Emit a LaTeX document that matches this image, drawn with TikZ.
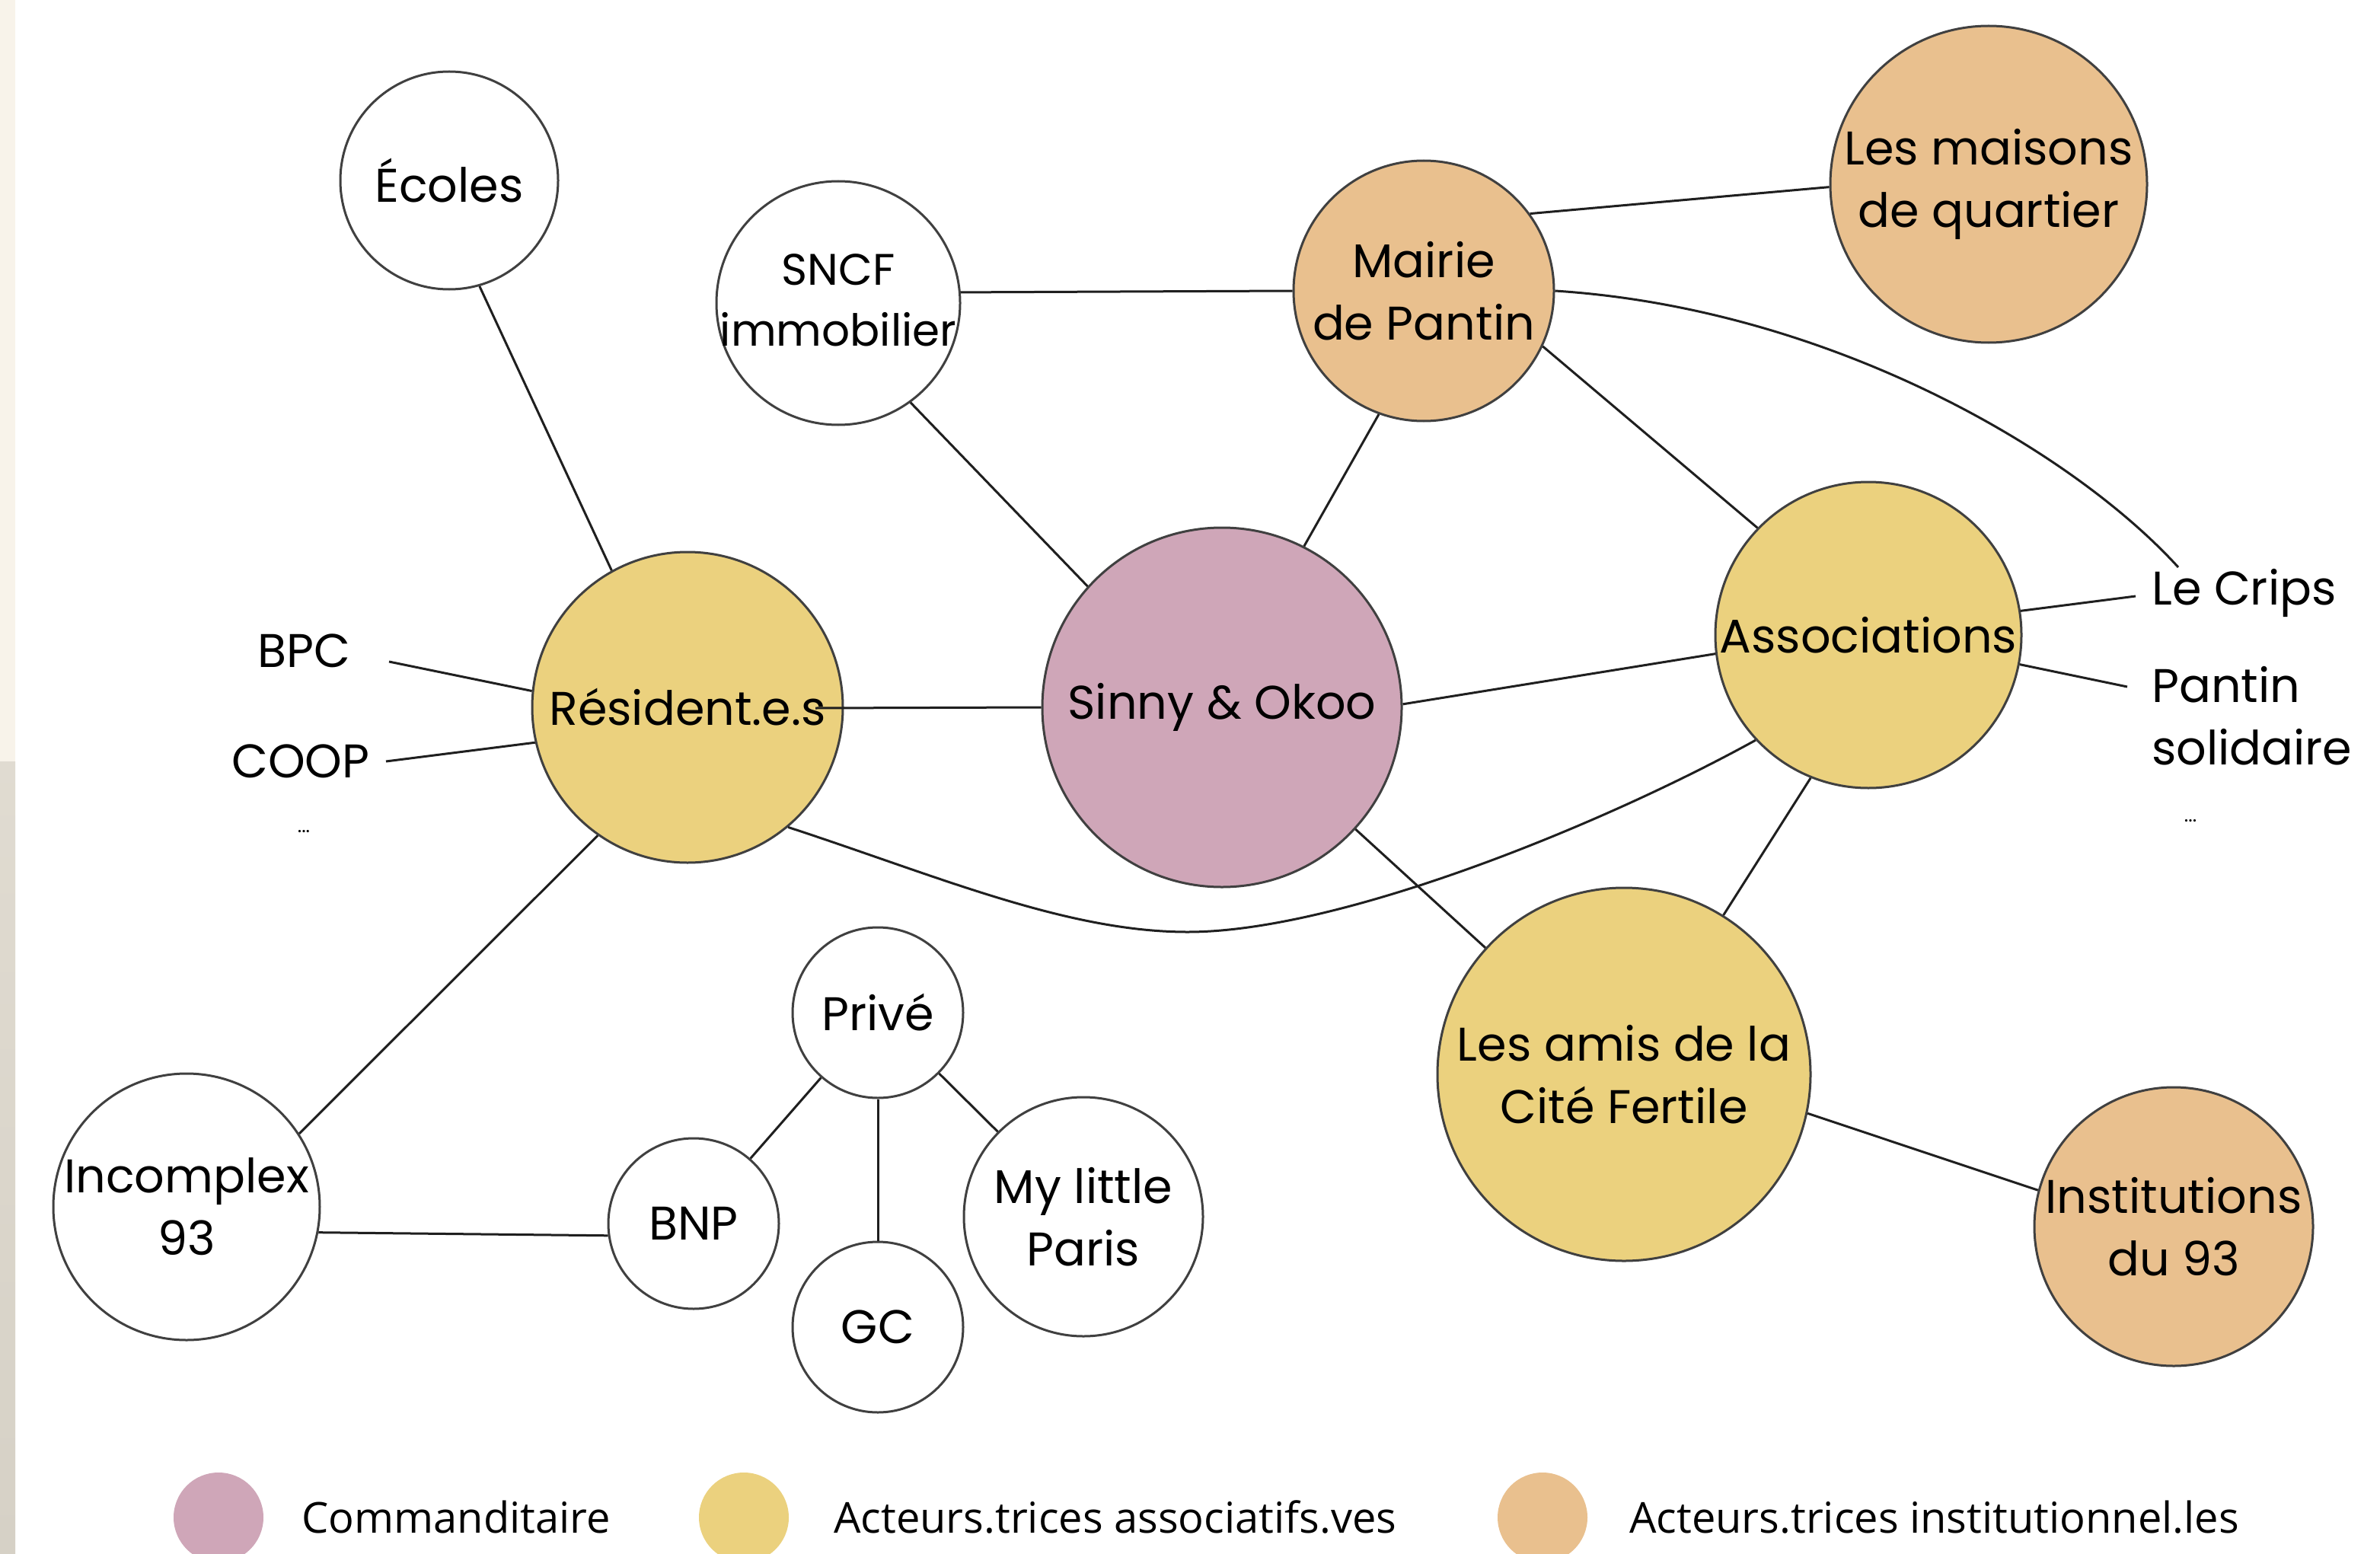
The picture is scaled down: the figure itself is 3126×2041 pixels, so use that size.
\documentclass[tikz,border=0pt]{standalone}
\usepackage{fontspec}
\setmainfont{Poppins}
\newfontfamily\legendfont{Open Sans}
\definecolor{cpink}{HTML}{CFA6B8}
\definecolor{cyel}{HTML}{EBD17E}
\definecolor{corg}{HTML}{E9C08E}
\definecolor{cstripA}{HTML}{F8F3EA}
\definecolor{cstripB}{HTML}{D6D1C6}
\begin{document}
\begin{tikzpicture}[x=1pt,y=-1pt,
  nd/.style={circle, draw=black!75, line width=3pt, inner sep=0pt, minimum size=2*#1, align=center, font=\fontsize{62}{82}\selectfont},
  lbl/.style={inner sep=0pt, align=left, font=\fontsize{62}{82}\selectfont},
  dots/.style={inner sep=0pt, font=\fontsize{26}{30}\selectfont},
  ln/.style={line width=3pt, black!88},
  lgc/.style={circle, inner sep=0pt, minimum size=118},
  lgt/.style={inner sep=0pt, anchor=base west, font=\legendfont\fontsize{56}{66}\selectfont}
]
\useasboundingbox (0,0) rectangle (3126,2041);
\fill[white] (0,0) rectangle (3126,2041);
\fill[cstripA] (0,0) rectangle (20,1000);
\shade[top color=cstripB!70!cstripA, bottom color=cstripB] (0,1000) rectangle (20,2041);

% nodes
\node[nd=143] (eco) at (590,237) {Écoles};
\node[nd=160] (sncf) at (1101,398) {\makebox[0pt]{\fontsize{58}{80}\selectfont\begin{tabular}{@{}c@{}}SNCF\\immobilier\end{tabular}}};
\node[nd=171, fill=corg] (mai) at (1870,382) {Mairie\\de Pantin};
\node[nd=208, fill=corg] (mq) at (2612,242) {Les maisons\\de quartier};
\node[nd=236, fill=cpink] (sin) at (1605,929) {Sinny \& Okoo};
\node[nd=204, fill=cyel] (res) at (903,929) {Résident.e.s};
\node[nd=201, fill=cyel] (aso) at (2454,834) {Associations};
\node[nd=245, fill=cyel] (ami) at (2133,1411) {Les amis de la\\Cité Fertile};
\node[nd=183, fill=corg] (ins) at (2855,1611) {Institutions\\du 93};
\node[nd=112] (pri) at (1153,1330) {Privé};
\node[nd=112] (bnp) at (911,1607) {BNP};
\node[nd=112] (gc) at (1153,1743) {GC};
\node[nd=157] (mlp) at (1423,1598) {My little\\Paris};
\node[nd=175] (inc) at (245,1585) {Incomplex\\93};

% free labels
\node[lbl] (bpc) at (399,855) {BPC};
\node[lbl] (coop) at (395,1000) {COOP};
\node[dots] (dl) at (399,1092) {...};
\node[lbl, anchor=west] (crips) at (2826,779) {Le Crips};
\node[lbl, anchor=west] (pan) at (2826,940) {Pantin\\solidaire};
\node[dots] (dr) at (2877,1078) {...};

\coordinate (bpcE) at (511,869);
\coordinate (coopE) at (507,1000);
\coordinate (cripsW) at (2805,783);
\coordinate (panW) at (2794,902);
\coordinate (resT) at (1071,930);
\coordinate (cripsT) at (2861,745);
\coordinate (low) at (1560,1224);

% connectors
\draw[ln] (eco.-74) -- (res.119);
\draw[ln] (sncf.-54) -- (sin.138);
\draw[ln] (sncf.5) -- (mai.180);
\draw[ln] (mai.250) -- (sin.63);
\draw[ln] (mai.36) -- (mq.181);
\draw[ln] (mai.-25) -- (aso.136);
\draw[ln] (mai.0) .. controls (2400,405) and (2720,590) .. (cripsT);
\draw[ln] (resT) -- (sin.180);
\draw[ln] (sin.1) -- (aso.187);
\draw[ln] (sin) -- (ami);
\draw[ln] (aso.248) -- (ami.58);
\draw[ln] (aso.9) -- (cripsW);
\draw[ln] (aso.-11) -- (panW);
\draw[ln] (res.-50) .. controls (1230,1150) and (1400,1224) .. (low) .. controls (1760,1224) and (2105,1083) .. (aso.223);
\draw[ln] (bpcE) -- (res.174);
\draw[ln] (coopE) -- (res.193);
\draw[ln] (res.235) -- (inc.33);
\draw[ln] (inc.-11) -- (bnp.188);
\draw[ln] (pri) -- (bnp);
\draw[ln] (pri) -- (gc);
\draw[ln] (pri) -- (mlp);
\draw[ln] (ami.-12) -- (ins.165);

% legend
\node[lgc, fill=cpink] (l1) at (287,1993) {};
\node[lgc, fill=cyel] (l2) at (977,1993) {};
\node[lgc, fill=corg] (l3) at (2026,1993) {};
\node[lgt] (t1) at (396,2013) {Commanditaire};
\node[lgt] (t2) at (1095,2013) {Acteurs.trices associatifs.ves};
\node[lgt] (t3) at (2140,2013) {Acteurs.trices institutionnel.les};
\end{tikzpicture}
\end{document}
